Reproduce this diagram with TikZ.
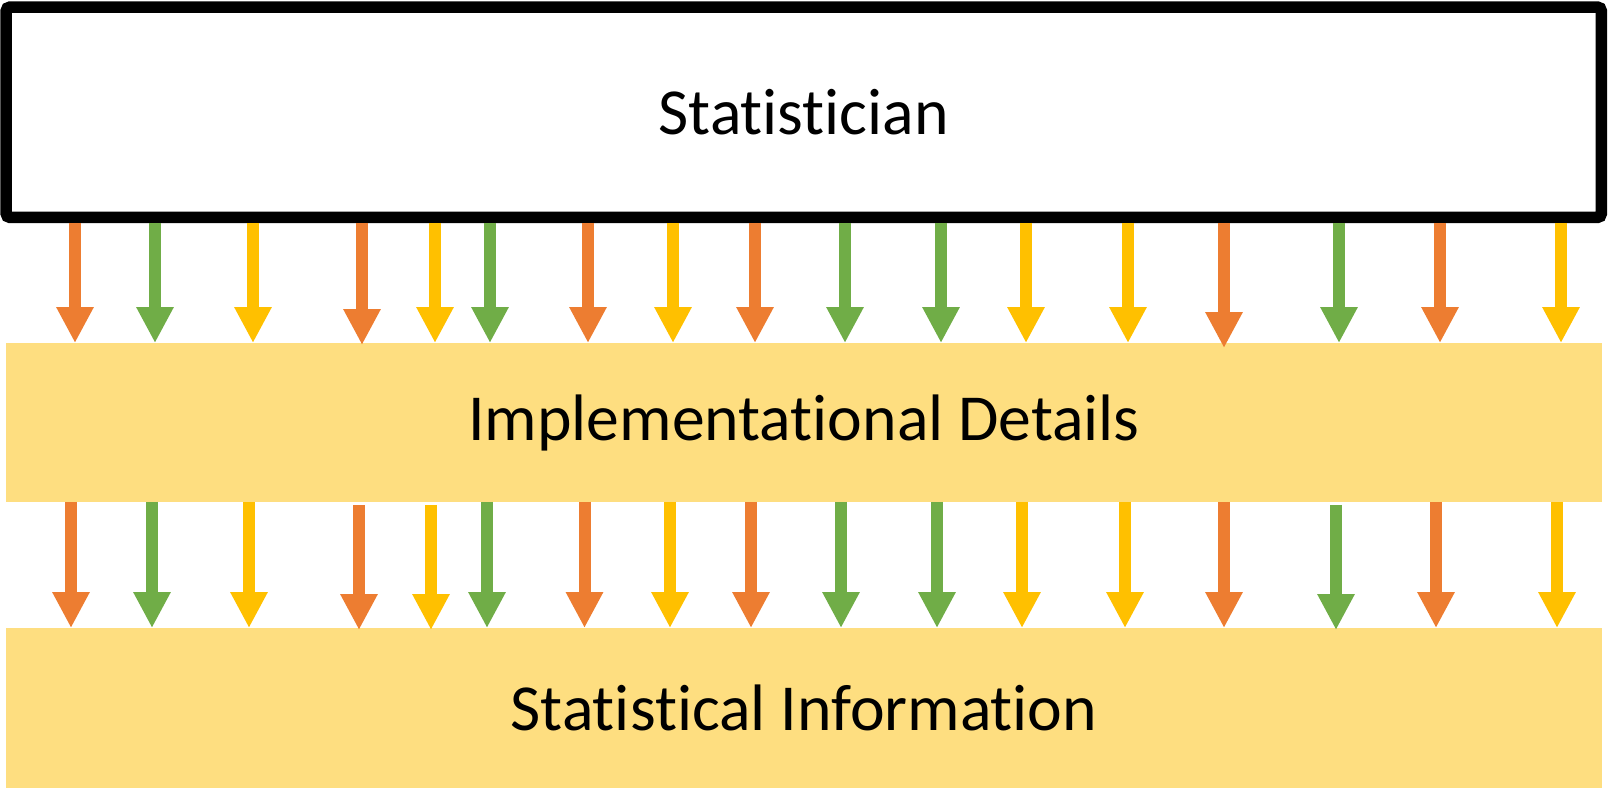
\documentclass[tikz,border=0pt]{standalone}
\usepackage{fontspec}
\setmainfont[RawFeature={-liga;-clig}]{Carlito}
\usetikzlibrary{arrows.meta}

\definecolor{arrorange}{HTML}{ED7D31}
\definecolor{arrgreen}{HTML}{70AD47}
\definecolor{arrgold}{HTML}{FFC000}
\definecolor{layerfill}{HTML}{FEDE80}

\begin{document}
\begin{tikzpicture}[x=0.02cm,y=-0.02cm]
\tikzstyle{every node}=[inner sep=0pt,font=\fontsize{37.4}{44}\selectfont]
\tikzstyle{layer}=[rectangle,fill=layerfill,outer sep=0pt,minimum width=31.92cm,minimum height=3.18cm]
\tikzstyle{flow}=[line width=0.24cm,-{Triangle[width=0.7cm,length=0.72cm]}]
\tikzstyle{oarrow}=[flow,arrorange]
\tikzstyle{garrow}=[flow,arrgreen]
\tikzstyle{yarrow}=[flow,arrgold]

\useasboundingbox (0,0) rectangle (1608,788);

\node[rectangle,draw,line width=0.23cm,rounded corners=0.08cm,minimum width=31.91cm,minimum height=4.21cm](stat) at (803.75,112.25) {Statistician};
\node[layer](impl) at (804,422.5) {Implementational Details};
\node[layer,minimum height=3.2cm](info) at (804,708) {Statistical Information};

% first row
\draw[oarrow] (stat.south -| 75,0) -- (impl.north -| 75,0);
\draw[garrow] (stat.south -| 155,0) -- (impl.north -| 155,0);
\draw[yarrow] (stat.south -| 253,0) -- (impl.north -| 253,0);
\draw[oarrow] (stat.south -| 362,0) -- ([yshift=-0.04cm]impl.north -| 362,0);
\draw[yarrow] (stat.south -| 435,0) -- (impl.north -| 435,0);
\draw[garrow] (stat.south -| 490,0) -- (impl.north -| 490,0);
\draw[oarrow] (stat.south -| 588,0) -- (impl.north -| 588,0);
\draw[yarrow] (stat.south -| 673,0) -- (impl.north -| 673,0);
\draw[oarrow] (stat.south -| 755,0) -- (impl.north -| 755,0);
\draw[garrow] (stat.south -| 845,0) -- (impl.north -| 845,0);
\draw[garrow] (stat.south -| 941,0) -- (impl.north -| 941,0);
\draw[yarrow] (stat.south -| 1026,0) -- (impl.north -| 1026,0);
\draw[yarrow] (stat.south -| 1128,0) -- (impl.north -| 1128,0);
\draw[oarrow] (stat.south -| 1224,0) -- ([yshift=-0.1cm]impl.north -| 1224,0);
\draw[garrow] (stat.south -| 1339,0) -- (impl.north -| 1339,0);
\draw[oarrow] (stat.south -| 1440,0) -- (impl.north -| 1440,0);
\draw[yarrow] (stat.south -| 1561,0) -- (impl.north -| 1561,0);

% second row
\draw[oarrow] (impl.south -| 71,0) -- (info.north -| 71,0);
\draw[garrow] (impl.south -| 152,0) -- (info.north -| 152,0);
\draw[yarrow] (impl.south -| 249,0) -- (info.north -| 249,0);
\draw[oarrow] ([yshift=-0.06cm]impl.south -| 359,0) -- ([yshift=-0.04cm]info.north -| 359,0);
\draw[yarrow] ([yshift=-0.06cm]impl.south -| 431,0) -- ([yshift=-0.04cm]info.north -| 431,0);
\draw[garrow] (impl.south -| 487,0) -- (info.north -| 487,0);
\draw[oarrow] (impl.south -| 584.5,0) -- (info.north -| 584.5,0);
\draw[yarrow] (impl.south -| 670,0) -- (info.north -| 670,0);
\draw[oarrow] (impl.south -| 751,0) -- (info.north -| 751,0);
\draw[garrow] (impl.south -| 841,0) -- (info.north -| 841,0);
\draw[garrow] (impl.south -| 937,0) -- (info.north -| 937,0);
\draw[yarrow] (impl.south -| 1022,0) -- (info.north -| 1022,0);
\draw[yarrow] (impl.south -| 1125,0) -- (info.north -| 1125,0);
\draw[oarrow] (impl.south -| 1224,0) -- (info.north -| 1224,0);
\draw[garrow] ([yshift=-0.06cm]impl.south -| 1336,0) -- ([yshift=-0.04cm]info.north -| 1336,0);
\draw[oarrow] (impl.south -| 1436,0) -- (info.north -| 1436,0);
\draw[yarrow] (impl.south -| 1557,0) -- (info.north -| 1557,0);
\end{tikzpicture}
\end{document}
